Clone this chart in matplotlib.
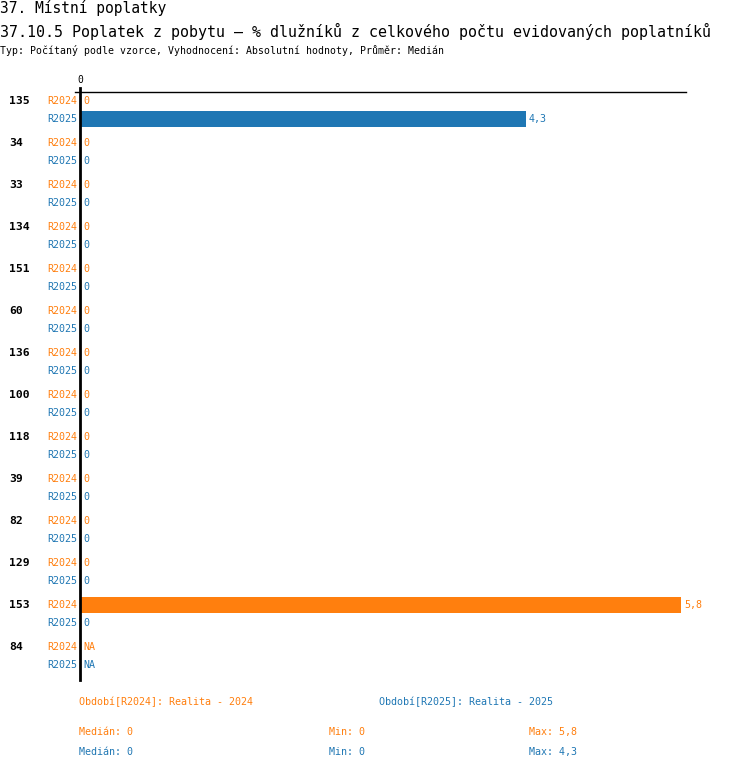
import numpy as np
import matplotlib.pyplot as plt

groups = ["135", "34", "33", "134", "151", "60", "136", "100", "118", "39", "82", "129", "153", "84"]
r2024 = [0, 0, 0, 0, 0, 0, 0, 0, 0, 0, 0, 0, 5.8, np.nan]
r2025 = [4.3, 0, 0, 0, 0, 0, 0, 0, 0, 0, 0, 0, 0, np.nan]
periods = ["R2024", "R2025"]
legend_text = ["Období[R2024]: Realita - 2024", "Období[R2025]: Realita - 2025"]

orange = "#ff7f0e"
blue = "#1f77b4"
font = "DejaVu Sans Mono"

W, H = 750, 770
fig = plt.figure(figsize=(W / 100, H / 100), dpi=100)


def fx(x):
    return x / W


def fy(y):
    return 1 - y / H


def fmt(v):
    if np.isnan(v):
        return "NA"
    return ("%g" % v).replace(".", ",")


# axes spans pixels x 80..686, y 92..680
ax = fig.add_axes([fx(80), fy(680), fx(686) - fx(80), fy(92) - fy(680)])
scale = 601 / 5.8
ax.set_xlim(0, 606 / scale)
ax.set_ylim(588, 0)
ax.axis("off")

ax.plot([-5 / scale, 606 / scale], [0, 0], color="black", lw=1, clip_on=False)
ax.plot([0, 0], [-4, 588], color="black", lw=2, clip_on=False)
ax.text(0, -7, "0", ha="center", va="bottom", fontsize=7, family=font)

for g, name in enumerate(groups):
    for r, (vals, col) in enumerate([(r2024, orange), (r2025, blue)]):
        y = 9 + g * 42 + r * 18
        v = vals[g]
        if r == 0:
            ax.text(-71 / scale, y, name, ha="left", va="center", fontsize=8.2,
                    family=font, fontweight="bold", color="black")
        ax.text(-3 / scale, y, periods[r], ha="right", va="center", fontsize=7.2,
                family=font, color=col)
        if not np.isnan(v) and v > 0:
            ax.barh(y, v, height=16, color=col)
        x = 0 if np.isnan(v) else v
        ax.text(x + 3 / scale, y, fmt(v), ha="left", va="center", fontsize=7.2,
                family=font, color=col)

fig.text(0, fy(8), "37. Místní poplatky", ha="left", va="center", fontsize=10.5, family=font)
fig.text(0, fy(31), "37.10.5 Poplatek z pobytu – % dlužníků z celkového počtu evidovaných poplatníků",
         ha="left", va="center", fontsize=10.8, family=font)
fig.text(0, fy(50), "Typ: Počítaný podle vzorce, Vyhodnocení: Absolutní hodnoty, Průměr: Medián",
         ha="left", va="center", fontsize=7.1, family=font)

fig.text(fx(79), fy(702), legend_text[0], ha="left", va="center", fontsize=7.2, family=font, color=orange)
fig.text(fx(379), fy(702), legend_text[1], ha="left", va="center", fontsize=7.2, family=font, color=blue)

for r, (vals, col) in enumerate([(r2024, orange), (r2025, blue)]):
    y = fy(732 + r * 20)
    arr = np.array(vals)
    fig.text(fx(79), y, "Medián: " + fmt(np.nanmedian(arr)), ha="left", va="center",
             fontsize=7.2, family=font, color=col)
    fig.text(fx(329), y, "Min: " + fmt(np.nanmin(arr)), ha="left", va="center",
             fontsize=7.2, family=font, color=col)
    fig.text(fx(529), y, "Max: " + fmt(np.nanmax(arr)), ha="left", va="center",
             fontsize=7.2, family=font, color=col)

plt.savefig("out.png", dpi=100)
